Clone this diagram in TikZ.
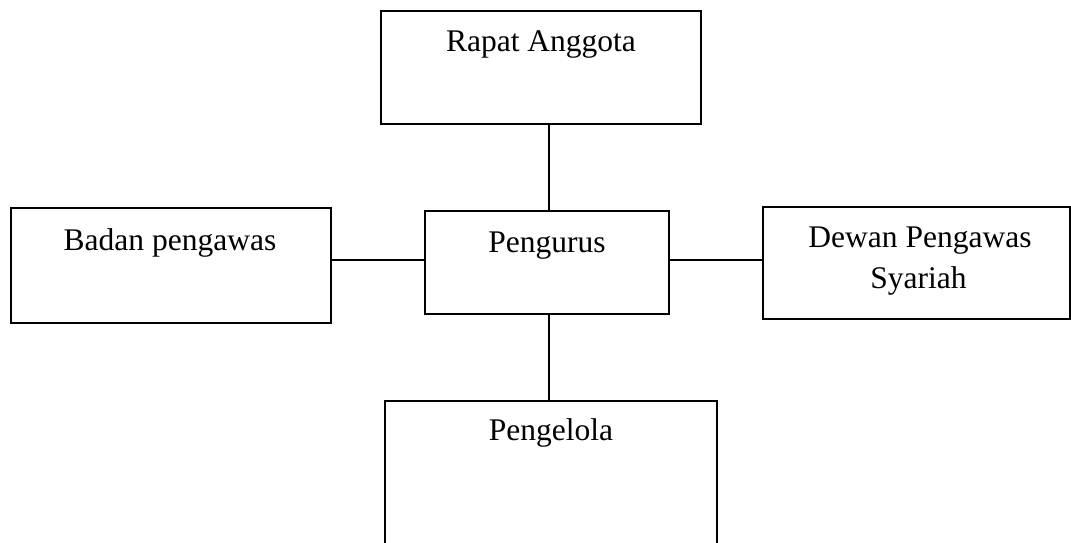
\documentclass[tikz,border=0pt]{standalone}
\usepackage{fontspec}
\setmainfont{Liberation Serif}
\begin{document}
\begin{tikzpicture}[x=1pt,y=-1pt,
  box/.style={draw=black,line width=1.7pt,fill=white,inner sep=0pt},
  lbl/.style={anchor=base,inner sep=0pt,font=\fontsize{31.5}{41}\selectfont,align=center},
  conn/.style={draw=black,line width=1.7pt}]
\useasboundingbox (0,0) rectangle (1071,543);
\clip (0,0) rectangle (1071,543);
\fill[white] (0,0) rectangle (1071,543);
% boxes
\node[box,minimum width=320pt,minimum height=113pt] (rapat) at (541,67.5) {};
\node[box,minimum width=320pt,minimum height=115pt] (badan) at (171,265.5) {};
\node[box,minimum width=244pt,minimum height=103pt] (pengurus) at (547,262.5) {};
\node[box,minimum width=307pt,minimum height=112pt] (dewan) at (916.5,263) {};
\node[box,minimum width=332pt,minimum height=159pt] (pengelola) at (551,480.5) {};
% texts
\node[lbl] (trapat) at (541,52) {Rapat Anggota};
\node[lbl] (tbadan) at (170,250) {Badan pengawas};
\node[lbl] (tpengurus) at (547,252) {Pengurus};
\node[lbl,anchor=base] (tdewan1) at (920,247) {Dewan Pengawas};
\node[lbl,anchor=base] (tdewan2) at (918.5,288) {Syariah};
\node[lbl] (tpengelola) at (551,440) {Pengelola};
% connectors
\draw[conn] ([xshift=2pt]pengurus.north) -- ([xshift=2pt]pengurus.north |- rapat.south);
\draw[conn] ([xshift=2pt]pengurus.south) -- ([xshift=2pt]pengurus.south |- pengelola.north);
\draw[conn] ([yshift=2.5pt]pengurus.west) -- ([yshift=2.5pt]pengurus.west -| badan.east);
\draw[conn] ([yshift=2.5pt]pengurus.east) -- ([yshift=2.5pt]pengurus.east -| dewan.west);
\end{tikzpicture}
\end{document}
